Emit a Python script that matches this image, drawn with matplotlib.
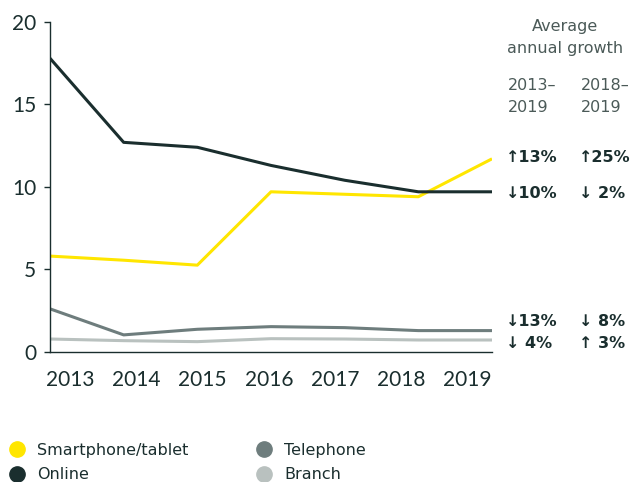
import matplotlib
matplotlib.use("Agg")
import matplotlib.pyplot as plt
from matplotlib.lines import Line2D

plt.rcParams["font.family"] = ["Lato", "DejaVu Sans"]

YEARS = [2013, 2014, 2015, 2016, 2017, 2018, 2019]
SMARTPHONE = [5.8, 5.55, 5.25, 9.7, 9.55, 9.4, 11.7]
ONLINE = [17.8, 12.7, 12.4, 11.3, 10.4, 9.7, 9.7]
TELEPHONE = [2.6, 1.02, 1.36, 1.52, 1.46, 1.28, 1.28]
BRANCH = [0.77, 0.67, 0.61, 0.79, 0.77, 0.71, 0.71]

SERIES = ["Smartphone/tablet", "Online", "Telephone", "Branch"]
GROWTH_13_19 = ["\u219113%", "\u219310%", "\u219313%", "\u2193 4%"]
GROWTH_18_19 = ["\u219125%", "\u2193 2%", "\u2193 8%", "\u2191 3%"]

YELLOW = "#ffe600"
DARK = "#1a2e2e"
GREY = "#6e7d7d"
LIGHT = "#b9c1bf"
TEXT_GREY = "#4b5a58"
WIDE = ["DejaVu Sans"]

W, H = 642, 482
fig = plt.figure(figsize=(W / 100, H / 100), dpi=100)
ax = fig.add_axes([50 / W, 1 - 351.7 / H, 442 / W, 329.7 / H])

ax.plot(YEARS, BRANCH, color=LIGHT, lw=2.2, solid_capstyle="butt")
ax.plot(YEARS, TELEPHONE, color=GREY, lw=2.2, solid_capstyle="butt")
ax.plot(YEARS, SMARTPHONE, color=YELLOW, lw=2.2, solid_capstyle="butt")
ax.plot(YEARS, ONLINE, color=DARK, lw=2.2, solid_capstyle="butt")

ax.set_xlim(2013, 2019)
ax.set_ylim(0, 20)
ax.set_yticks([0, 5, 10, 15, 20])
# year labels sit a bit inside of the data points in the original
ax.set_xticks([2013.27 + 0.9 * i for i in range(7)])
ax.set_xticklabels([str(y) for y in YEARS])
ax.tick_params(axis="x", length=0, pad=13, labelsize=15, labelcolor=DARK)
ax.tick_params(axis="y", length=4, width=1, color=DARK, pad=6,
               labelsize=15, labelcolor=DARK)
for s in ["top", "right"]:
    ax.spines[s].set_visible(False)
for s in ["left", "bottom"]:
    ax.spines[s].set_color(DARK)
    ax.spines[s].set_linewidth(1)


def fx(px):
    return px / W


def fy(py):
    return 1 - py / H


fig.text(fx(565), fy(27), "Average", ha="center", va="center",
         fontsize=11.5, color=TEXT_GREY, family=WIDE)
fig.text(fx(565), fy(48), "annual growth", ha="center", va="center",
         fontsize=11.5, color=TEXT_GREY, family=WIDE)
for x, a, b in [(508, "2013\u2013", "2019"), (581, "2018\u2013", "2019")]:
    fig.text(fx(x), fy(86), a, ha="left", va="center", fontsize=11.5,
             color=TEXT_GREY, family=WIDE)
    fig.text(fx(x), fy(107), b, ha="left", va="center", fontsize=11.5,
             color=TEXT_GREY, family=WIDE)

ROW_Y = [157, 193, 321, 344]
for py, g1, g2 in zip(ROW_Y, GROWTH_13_19, GROWTH_18_19):
    fig.text(fx(506), fy(py), g1, ha="left", va="center", fontsize=11.5,
             fontweight="bold", color=DARK, family=WIDE)
    fig.text(fx(579), fy(py), g2, ha="left", va="center", fontsize=11.5,
             fontweight="bold", color=DARK, family=WIDE)

handles = [Line2D([], [], marker="o", linestyle="none", markersize=11,
                  markerfacecolor=c, markeredgecolor=c)
           for c in [YELLOW, DARK, GREY, LIGHT]]
leg = fig.legend(handles, SERIES, loc="upper left",
                 bbox_to_anchor=(fx(7.5), fy(443)),
                 ncol=2, frameon=False, handletextpad=0.65,
                 columnspacing=4.15, labelspacing=0.58, borderaxespad=0,
                 borderpad=0, handlelength=1.2, labelcolor=DARK,
                 prop={"family": WIDE, "size": 11.5})

fig.savefig("out.png", dpi=100)
